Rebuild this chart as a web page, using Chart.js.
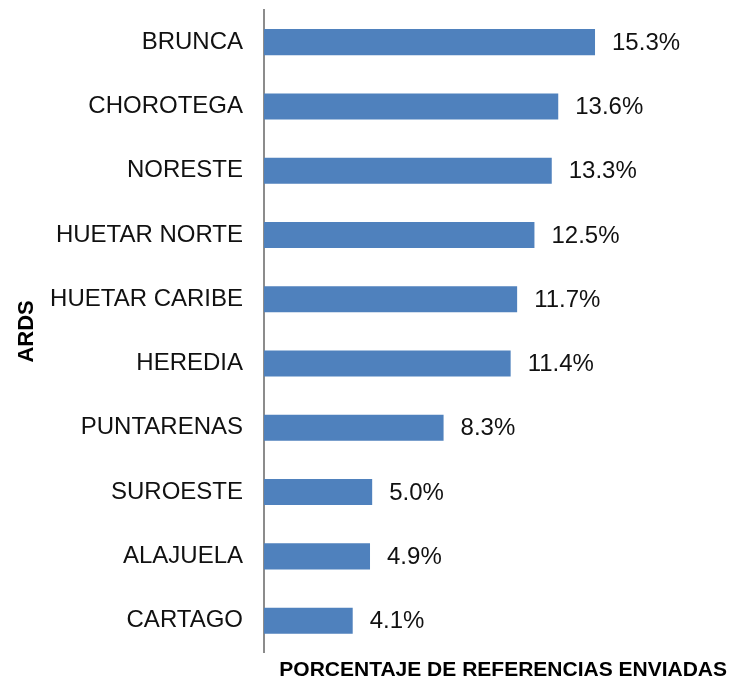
<!DOCTYPE html>
<html lang="es">
<head>
  <meta charset="UTF-8" />
  <title>Referencias enviadas por ARDS</title>
  <script src="https://cdn.jsdelivr.net/npm/chart.js"></script>
  <style>
    html, body { margin: 0; padding: 0; background: #fff; }
    #wrap { width: 731px; height: 683px; }
  </style>
</head>
<body>
  <div id="wrap"><canvas id="chart" width="731" height="683"></canvas></div>

  <script>
    const regiones = ['BRUNCA', 'CHOROTEGA', 'NORESTE', 'HUETAR NORTE', 'HUETAR CARIBE',
                      'HEREDIA', 'PUNTARENAS', 'SUROESTE', 'ALAJUELA', 'CARTAGO'];
    const porcentajes = [15.3, 13.6, 13.3, 12.5, 11.7, 11.4, 8.3, 5.0, 4.9, 4.1];

    const FONT = "'Liberation Sans', Arial, sans-serif";
    const PAD_LEFT = 14;
    const AXIS_X = 264;

    // etiquetas de valor a la derecha de cada barra
    const etiquetas = {
      id: 'etiquetas',
      afterDatasetsDraw(chart) {
        const ctx = chart.ctx;
        const meta = chart.getDatasetMeta(0);
        ctx.save();
        ctx.font = '24px ' + FONT;
        ctx.fillStyle = '#111';
        ctx.textAlign = 'left';
        ctx.textBaseline = 'middle';
        meta.data.forEach((bar, i) => {
          ctx.fillText(porcentajes[i].toFixed(1) + '%', bar.x + 17, bar.y + 1);
        });
        ctx.restore();
      }
    };

    new Chart(document.getElementById('chart').getContext('2d'), {
      type: 'bar',
      data: {
        labels: regiones,
        datasets: [{
          data: porcentajes,
          backgroundColor: '#4F81BD',
          borderWidth: 0,
          categoryPercentage: 1,
          barPercentage: 0.405
        }]
      },
      options: {
        indexAxis: 'y',
        responsive: false,
        animation: false,
        layout: { padding: { top: 10, left: PAD_LEFT, right: 4, bottom: 0 } },
        plugins: {
          legend: { display: false },
          tooltip: { enabled: false }
        },
        scales: {
          x: {
            min: 0,
            max: 21.4,
            grid: { display: false, drawTicks: false },
            border: { display: false },
            ticks: { display: false },
            title: {
              display: true,
              text: 'PORCENTAJE DE REFERENCIAS ENVIADAS',
              align: 'end',
              color: '#000',
              font: { family: FONT, size: 21, weight: 'bold' },
              padding: { top: 5, bottom: 0 }
            }
          },
          y: {
            grid: { display: false, drawTicks: false },
            border: { display: true, color: '#8c8c8c', width: 2 },
            ticks: {
              color: '#111',
              padding: 21,
              font: { family: FONT, size: 24 }
            },
            title: {
              display: true,
              text: 'ARDS',
              color: '#000',
              font: { family: FONT, size: 22, weight: 'bold' },
              padding: 0
            },
            afterFit(scale) {
              scale.width = AXIS_X - PAD_LEFT;
              scale.paddingTop = 0;
              scale.paddingBottom = 0;
            }
          }
        }
      },
      plugins: [etiquetas]
    });
  </script>
</body>
</html>
